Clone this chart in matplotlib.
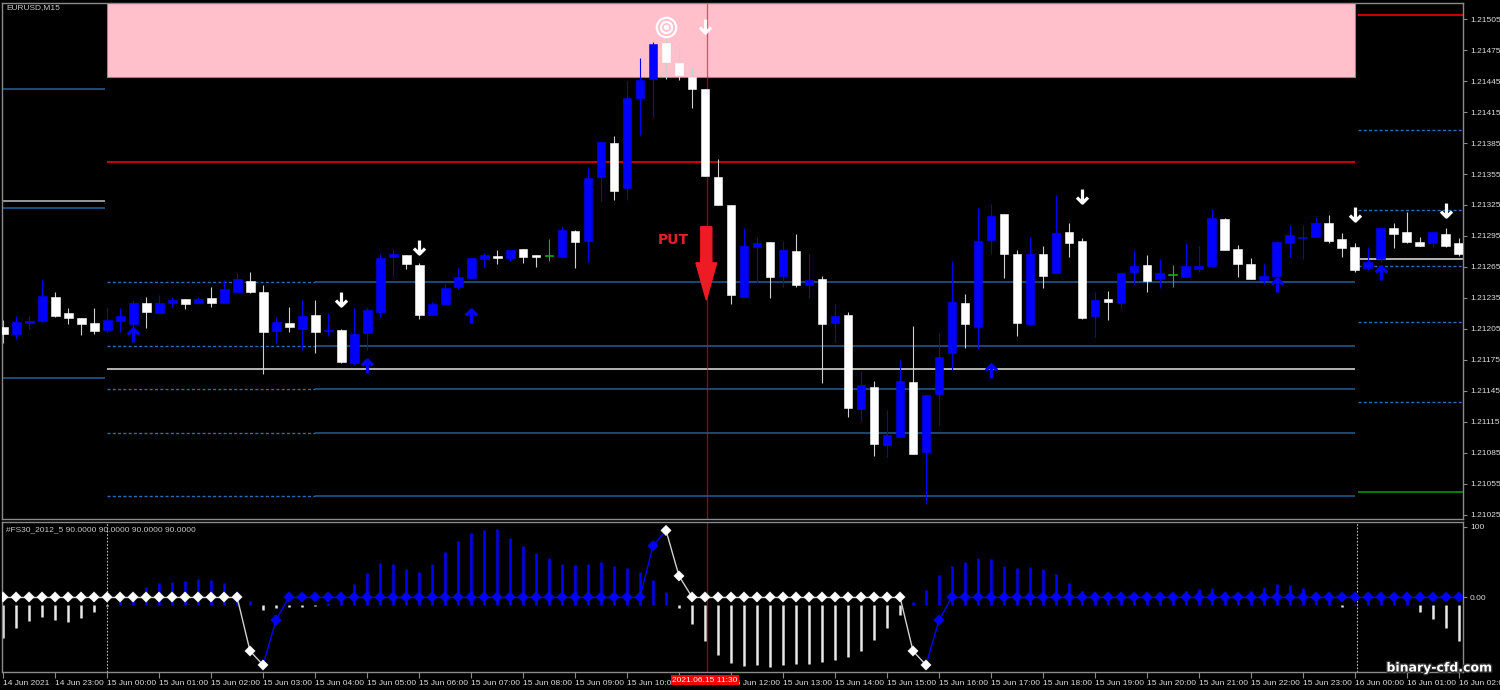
import numpy as np
import matplotlib
matplotlib.use('Agg')
import matplotlib.pyplot as plt
from matplotlib.patches import Rectangle, FancyArrow
from matplotlib.collections import LineCollection
from matplotlib.path import Path
from matplotlib import transforms
import matplotlib.patheffects as pe

plt.rcParams['font.family'] = ['Liberation Sans Narrow', 'Liberation Sans', 'DejaVu Sans']

# EURUSD M15 candles, bar 0 = 14 Jun 22:00
opens = [1.21207, 1.21200, 1.21211, 1.21213, 1.21236, 1.21220, 1.21216, 1.21211, 1.21204, 1.21213,
         1.21210, 1.21230, 1.21220, 1.21230, 1.21234, 1.21230, 1.21235, 1.21230, 1.21241, 1.21251,
         1.21241, 1.21203, 1.21211, 1.21205, 1.21219, 1.21203, 1.21204, 1.21172, 1.21201, 1.21221,
         1.21275, 1.21277, 1.21267, 1.21219, 1.21229, 1.21246, 1.21254, 1.21273, 1.21276, 1.21274,
         1.21282, 1.21277, 1.21276, 1.21275, 1.21300, 1.21290, 1.21352, 1.21385, 1.21341, 1.21429,
         1.21447, 1.21482, 1.21462, 1.21449, 1.21437, 1.21352, 1.21325, 1.21236, 1.21284, 1.21289,
         1.21256, 1.21280, 1.21248, 1.21253, 1.21211, 1.21219, 1.21128, 1.21149, 1.21093, 1.21100,
         1.21154, 1.21086, 1.21142, 1.21182, 1.21230, 1.21207, 1.21291, 1.21316, 1.21278, 1.21210,
         1.21278, 1.21259, 1.21299, 1.21290, 1.21218, 1.21234, 1.21230, 1.21260, 1.21267, 1.21253,
         1.21257, 1.21255, 1.21263, 1.21266, 1.21311, 1.21282, 1.21268, 1.21252, 1.21256, 1.21288,
         1.21293, 1.21294, 1.21308, 1.21292, 1.21284, 1.21264, 1.21273, 1.21303, 1.21299, 1.21289,
         1.21288, 1.21297, 1.21288]
highs = [1.21214, 1.21218, 1.21218, 1.21252, 1.21241, 1.21225, 1.21216, 1.21225, 1.21225, 1.21225,
         1.21233, 1.21236, 1.21238, 1.21236, 1.21234, 1.21236, 1.21246, 1.21252, 1.21259, 1.21260,
         1.21248, 1.21217, 1.21226, 1.21233, 1.21233, 1.21220, 1.21205, 1.21225, 1.21225, 1.21278,
         1.21282, 1.21277, 1.21269, 1.21231, 1.21249, 1.21264, 1.21274, 1.21279, 1.21281, 1.21281,
         1.21282, 1.21277, 1.21292, 1.21304, 1.21301, 1.21362, 1.21386, 1.21392, 1.21445, 1.21467,
         1.21483, 1.21487, 1.21479, 1.21459, 1.21437, 1.21370, 1.21325, 1.21303, 1.21294, 1.21289,
         1.21290, 1.21297, 1.21278, 1.21256, 1.21229, 1.21221, 1.21164, 1.21155, 1.21127, 1.21175,
         1.21208, 1.21141, 1.21201, 1.21271, 1.21239, 1.21322, 1.21326, 1.21316, 1.21281, 1.21294,
         1.21285, 1.21335, 1.21308, 1.21293, 1.21241, 1.21242, 1.21259, 1.21281, 1.21277, 1.21273,
         1.21267, 1.21288, 1.21285, 1.21321, 1.21312, 1.21286, 1.21274, 1.21268, 1.21290, 1.21306,
         1.21306, 1.21313, 1.21315, 1.21298, 1.21288, 1.21284, 1.21303, 1.21308, 1.21318, 1.21294,
         1.21299, 1.21303, 1.21293]
lows = [1.21191, 1.21195, 1.21205, 1.21212, 1.21217, 1.21210, 1.21199, 1.21200, 1.21202, 1.21202,
        1.21207, 1.21206, 1.21220, 1.21226, 1.21224, 1.21229, 1.21226, 1.21230, 1.21241, 1.21240,
        1.21161, 1.21191, 1.21202, 1.21185, 1.21182, 1.21198, 1.21172, 1.21170, 1.21185, 1.21217,
        1.21256, 1.21263, 1.21215, 1.21219, 1.21229, 1.21244, 1.21254, 1.21265, 1.21268, 1.21271,
        1.21269, 1.21265, 1.21271, 1.21275, 1.21264, 1.21270, 1.21329, 1.21330, 1.21330, 1.21393,
        1.21410, 1.21447, 1.21446, 1.21419, 1.21353, 1.21325, 1.21229, 1.21236, 1.21250, 1.21235,
        1.21246, 1.21246, 1.21235, 1.21153, 1.21192, 1.21120, 1.21116, 1.21082, 1.21081, 1.21100,
        1.21084, 1.21036, 1.21112, 1.21165, 1.21187, 1.21186, 1.21278, 1.21254, 1.21198, 1.21210,
        1.21245, 1.21259, 1.21275, 1.21215, 1.21197, 1.21214, 1.21225, 1.21249, 1.21241, 1.21245,
        1.21246, 1.21255, 1.21260, 1.21266, 1.21281, 1.21255, 1.21253, 1.21249, 1.21256, 1.21275,
        1.21273, 1.21294, 1.21288, 1.21275, 1.21260, 1.21262, 1.21270, 1.21283, 1.21288, 1.21285,
        1.21284, 1.21284, 1.21276]
closes = [1.21200, 1.21212, 1.21213, 1.21237, 1.21218, 1.21216, 1.21210, 1.21203, 1.21214, 1.21218,
          1.21230, 1.21221, 1.21230, 1.21233, 1.21229, 1.21234, 1.21230, 1.21244, 1.21253, 1.21241,
          1.21202, 1.21212, 1.21207, 1.21218, 1.21202, 1.21204, 1.21173, 1.21200, 1.21223, 1.21274,
          1.21278, 1.21268, 1.21219, 1.21229, 1.21245, 1.21255, 1.21274, 1.21277, 1.21274, 1.21281,
          1.21275, 1.21275, 1.21276, 1.21301, 1.21289, 1.21351, 1.21386, 1.21339, 1.21429, 1.21446,
          1.21481, 1.21463, 1.21451, 1.21437, 1.21353, 1.21325, 1.21238, 1.21285, 1.21288, 1.21255,
          1.21281, 1.21248, 1.21252, 1.21210, 1.21218, 1.21129, 1.21151, 1.21094, 1.21102, 1.21155,
          1.21084, 1.21141, 1.21178, 1.21231, 1.21210, 1.21290, 1.21314, 1.21278, 1.21211, 1.21278,
          1.21256, 1.21298, 1.21288, 1.21216, 1.21233, 1.21231, 1.21259, 1.21266, 1.21251, 1.21259,
          1.21257, 1.21266, 1.21266, 1.21312, 1.21281, 1.21268, 1.21253, 1.21256, 1.21289, 1.21296,
          1.21294, 1.21308, 1.21290, 1.21283, 1.21262, 1.21270, 1.21303, 1.21297, 1.21289, 1.21285,
          1.21299, 1.21285, 1.21278]

# signal arrows
down_idx = [26, 32, 54, 83, 104, 111]
down_px = [1.21234, 1.21284, 1.21498, 1.21334, 1.21316, 1.21320]
up_idx = [10, 28, 36, 76, 98, 106]
up_px = [1.21199, 1.21169, 1.21218, 1.21164, 1.21248, 1.21259]
target_idx, target_px = 51, 1.21497
put_idx, put_top, put_tip = 54.1, 1.21304, 1.21233

# levels
zone_top, zone_bottom = 1.21521, 1.21449
day_red, day_gray = 1.21367, 1.21166
day_blue = [1.21250, 1.21189, 1.21147, 1.21104, 1.21043]
prev_blue = [1.21437, 1.21322, 1.21158]
prev_gray = 1.21329
next_red, next_gray, next_green = 1.21509, 1.21273, 1.21047
next_blue = [1.21398, 1.21320, 1.21266, 1.21212, 1.21134]

# indicator #FS30_2012_5
hist = [-59, -44, -34, -29, -33, -36, -30, -21, -13, 4,
        6, 14, 20, 21, 23, 26, 24, 20, 7, -6,
        -19, -16, -14, -14, -13, -9, 3, 19, 34, 49,
        47, 40, 36, 47, 64, 80, 91, 96, 97, 84,
        73, 63, 56, 47, 46, 47, 50, 44, 41, 36,
        24, 7, -16, -39, -63, -83, -94, -99, -97, -100,
        -97, -96, -96, -93, -90, -86, -77, -61, -44, -26,
        -7, 10, 31, 44, 50, 56, 54, 44, 41, 43,
        40, 33, 20, 9, 3, 3, 3, 3, 3, 3,
        3, 9, 11, 13, 7, 3, 9, 14, 19, 17,
        13, 6, 3, -14, -10, 3, 3, 3, 3, -21,
        -31, -44, -63]
hist_base = -11
line_vals = [0, 0, 0, 0, 0, 0, 0, 0, 0, 0,
             0, 0, 0, 0, 0, 0, 0, 0, 0, -77,
             -97, -33, 0, 0, 0, 0, 0, 0, 0, 0,
             0, 0, 0, 0, 0, 0, 0, 0, 0, 0,
             0, 0, 0, 0, 0, 0, 0, 0, 0, 0,
             73, 95, 30, 0, 0, 0, 0, 0, 0, 0,
             0, 0, 0, 0, 0, 0, 0, 0, 0, 0,
             -77, -97, -33, 0, 0, 0, 0, 0, 0, 0,
             0, 0, 0, 0, 0, 0, 0, 0, 0, 0,
             0, 0, 0, 0, 0, 0, 0, 0, 0, 0,
             0, 0, 0, 0, 0, 0, 0, 0, 0, 0,
             0, 0, 0]
line_state = 'w' * 21 + 'b' * 30 + 'w' * 21 + 'b' * 41

time_ticks = list(range(0, 113, 4))
time_labels = ['14 Jun 2021', '14 Jun 23:00',
               '15 Jun 00:00', '15 Jun 01:00', '15 Jun 02:00', '15 Jun 03:00', '15 Jun 04:00',
               '15 Jun 05:00', '15 Jun 06:00', '15 Jun 07:00', '15 Jun 08:00', '15 Jun 09:00',
               '15 Jun 10:00', '15 Jun 11:00', '15 Jun 12:00', '15 Jun 13:00', '15 Jun 14:00',
               '15 Jun 15:00', '15 Jun 16:00', '15 Jun 17:00', '15 Jun 18:00', '15 Jun 19:00',
               '15 Jun 20:00', '15 Jun 21:00', '15 Jun 22:00', '15 Jun 23:00',
               '16 Jun 00:00', '16 Jun 01:00', '16 Jun 02:00']
price_ticks = [1.21505, 1.21475, 1.21445, 1.21415, 1.21385, 1.21355, 1.21325, 1.21295, 1.21265,
               1.21235, 1.21205, 1.21175, 1.21145, 1.21115, 1.21085, 1.21055, 1.21025]

# arrow marker shapes (stroke only)
up_arrow = Path([(0, -1), (0, 0.95), (-0.8, 0.15), (0, 0.95), (0.8, 0.15)],
                [Path.MOVETO, Path.LINETO, Path.MOVETO, Path.LINETO, Path.LINETO])
down_arrow = Path([(0, 1), (0, -0.95), (-0.8, -0.15), (0, -0.95), (0.8, -0.15)],
                  [Path.MOVETO, Path.LINETO, Path.MOVETO, Path.LINETO, Path.LINETO])

# ---- figure ----
W, H = 1500, 690
fig = plt.figure(figsize=(15, 6.9), dpi=100, facecolor='black')
ax1 = fig.add_axes([2 / W, 1 - 519 / H, 1461 / W, 516 / H])
ax2 = fig.add_axes([2 / W, 1 - 672 / H, 1461 / W, 150 / H])
for ax in (ax1, ax2):
    ax.set_facecolor('black')
    ax.set_xlim(-0.08, 112.31)
    for s in ax.spines.values():
        s.set_color('#8a8a8a')
        s.set_linewidth(1)
ax1.set_ylim(1.210211, 1.215205)
ax2.set_ylim(-107, 107)

# zone and levels
ax1.add_patch(Rectangle((8, zone_bottom), 96, zone_top - zone_bottom,
                        facecolor='#ffc0cb', edgecolor='#8a8a8a', lw=0.8, zorder=0.5))
dash = (0, (2.2, 1.6))
ax1.hlines(prev_blue, -0.08, 7.85, colors='#1e5a94', lw=1.2, zorder=1)
ax1.hlines(prev_gray, -0.08, 7.85, colors='#b0b0b0', lw=1.2, zorder=1)
ax1.hlines(day_red, 8, 104, colors='#ff0000', lw=1.1, zorder=1)
ax1.hlines(day_gray, 8, 104, colors='#b4b4b4', lw=1.4, zorder=1)
ax1.hlines(day_blue, 8, 24, colors='#2a6db5', lw=1, linestyles=[dash], zorder=1)
ax1.hlines(day_blue, 24, 104, colors='#1f5d99', lw=1.1, zorder=1)
ax1.hlines(next_red, 104.2, 112.31, colors='#ff0000', lw=1.1, zorder=1)
ax1.hlines(next_gray, 104.4, 112.31, colors='#b4b4b4', lw=1.4, zorder=1)
ax1.hlines(next_green, 104.2, 112.31, colors='#00a000', lw=1.1, zorder=1)
ax1.hlines(next_blue, 104.2, 112.31, colors='#2a6db5', lw=1, linestyles=[dash], zorder=1)

# candles
x = np.arange(len(opens))
o, h, l, c = map(np.array, (opens, highs, lows, closes))
body_col = np.where(c > o, '#0000ff', np.where(c < o, '#ffffff', '#00c000'))
wick_col = np.where(c > o, '#0000ff', np.where(c < o, '#cfcfcf', '#00c000'))
ax1.vlines(x, l, h, colors=wick_col, lw=0.8, zorder=2)
bot = np.minimum(o, c)
hgt = np.maximum(np.abs(c - o), 0.000008)
ax1.bar(x, hgt, bottom=bot, width=0.69, color=body_col, edgecolor=body_col,
        lw=0.4, zorder=3)

ax1.axvline(54.15, color='red', alpha=0.65, lw=0.9, zorder=2.5)

# signals
ax1.plot(down_idx, down_px, ls='none', marker=down_arrow, ms=10, mew=2.3,
         mec='white', mfc='none', zorder=4)
ax1.plot(up_idx, up_px, ls='none', marker=up_arrow, ms=10, mew=2.3,
         mec='#0000ff', mfc='none', zorder=4)
ax1.plot(target_idx, target_px, 'o', ms=14, mfc='none', mec='white', mew=1.6, zorder=4)
ax1.plot(target_idx, target_px, 'o', ms=8, mfc='none', mec='white', mew=1.6, zorder=4)
ax1.plot(target_idx, target_px, 'o', ms=3, mfc='white', mec='white', zorder=4)
ax1.add_patch(FancyArrow(put_idx, put_top, 0, put_tip - put_top, width=0.85,
                         head_width=1.6, head_length=0.00036, length_includes_head=True,
                         color='#ed1c24', zorder=5))
ax1.text(51.6, 1.21291, 'PUT', color='#e0202a', fontsize=10, fontweight='bold',
         family='DejaVu Sans', ha='center', va='center', zorder=5)

ax1.text(4 / 1461, 1 - 5 / 516, 'EURUSD,M15', transform=ax1.transAxes, color='#c8c8c8',
         fontsize=6, ha='left', va='center')

# price axis
ax1.set_xticks([])
ax1.yaxis.tick_right()
ax1.set_yticks(price_ticks)
ax1.set_yticklabels(['%.5f' % p for p in price_ticks])
ax1.tick_params(axis='y', colors='#8a8a8a', labelcolor='#dcdcdc', labelsize=6,
                length=3, pad=2)

# indicator
hv = np.array(hist)
hcol = np.where(hv > hist_base, '#0000ff', '#e8e8e8')
ax2.vlines(x, hist_base, hv, colors=hcol, lw=1.8, zorder=2)
segs, scol = [], []
for k in range(len(line_vals) - 1):
    segs.append([(k, line_vals[k]), (k + 1, line_vals[k + 1])])
    scol.append('#0000ff' if 'b' in (line_state[k], line_state[k + 1]) else '#d0d0d0')
ax2.add_collection(LineCollection(segs, colors=scol, lw=1, zorder=3))
dcol = ['#0000ff' if s == 'b' else '#ffffff' for s in line_state]
ax2.scatter(x, line_vals, marker='D', s=28, c=dcol, edgecolors=dcol, lw=0.3, zorder=4)
ax2.axvline(8, color='#c0c0c0', ls=(0, (1.5, 1.5)), lw=0.8, zorder=1)
ax2.axvline(104.15, color='#c0c0c0', ls=(0, (1.5, 1.5)), lw=0.8, zorder=1)
ax2.axvline(54.15, color='#a00000', lw=0.9, zorder=2.5)
ax2.text(4 / 1461, 1 - 8 / 150, '#FS30_2012_5 90.0000 90.0000 90.0000 90.0000',
         transform=ax2.transAxes, color='#c8c8c8', fontsize=6, ha='left', va='center')

ax2.yaxis.tick_right()
ax2.set_yticks([100, 0, -100])
ax2.set_yticklabels(['100', '0.00', '-100'])
ax2.tick_params(axis='y', colors='#8a8a8a', labelcolor='#dcdcdc', labelsize=6,
                length=3, pad=2)
ax2.set_xticks(time_ticks)
ax2.set_xticklabels(time_labels)
ax2.tick_params(axis='x', colors='#8a8a8a', labelcolor='#dcdcdc', labelsize=6,
                length=4, pad=1.5)
for lab in ax2.get_xticklabels():
    lab.set_ha('left')

trans = transforms.blended_transform_factory(ax2.transData, fig.transFigure)
ax2.text(54.0, 1 - 680 / H, '2021.06.15 11:30', transform=trans, color='white',
         fontsize=6, ha='center', va='center', clip_on=False, zorder=10,
         bbox=dict(boxstyle='square,pad=0.2', fc='#ff0000', ec='none'))

fig.text(1439 / W, 1 - 668 / H, 'binary-cfd.com', color='white', fontsize=9,
         fontweight='bold', family='DejaVu Sans', ha='center', va='center',
         path_effects=[pe.withStroke(linewidth=2, foreground='#303030')])

fig.savefig('out.png', dpi=100, facecolor='black')
